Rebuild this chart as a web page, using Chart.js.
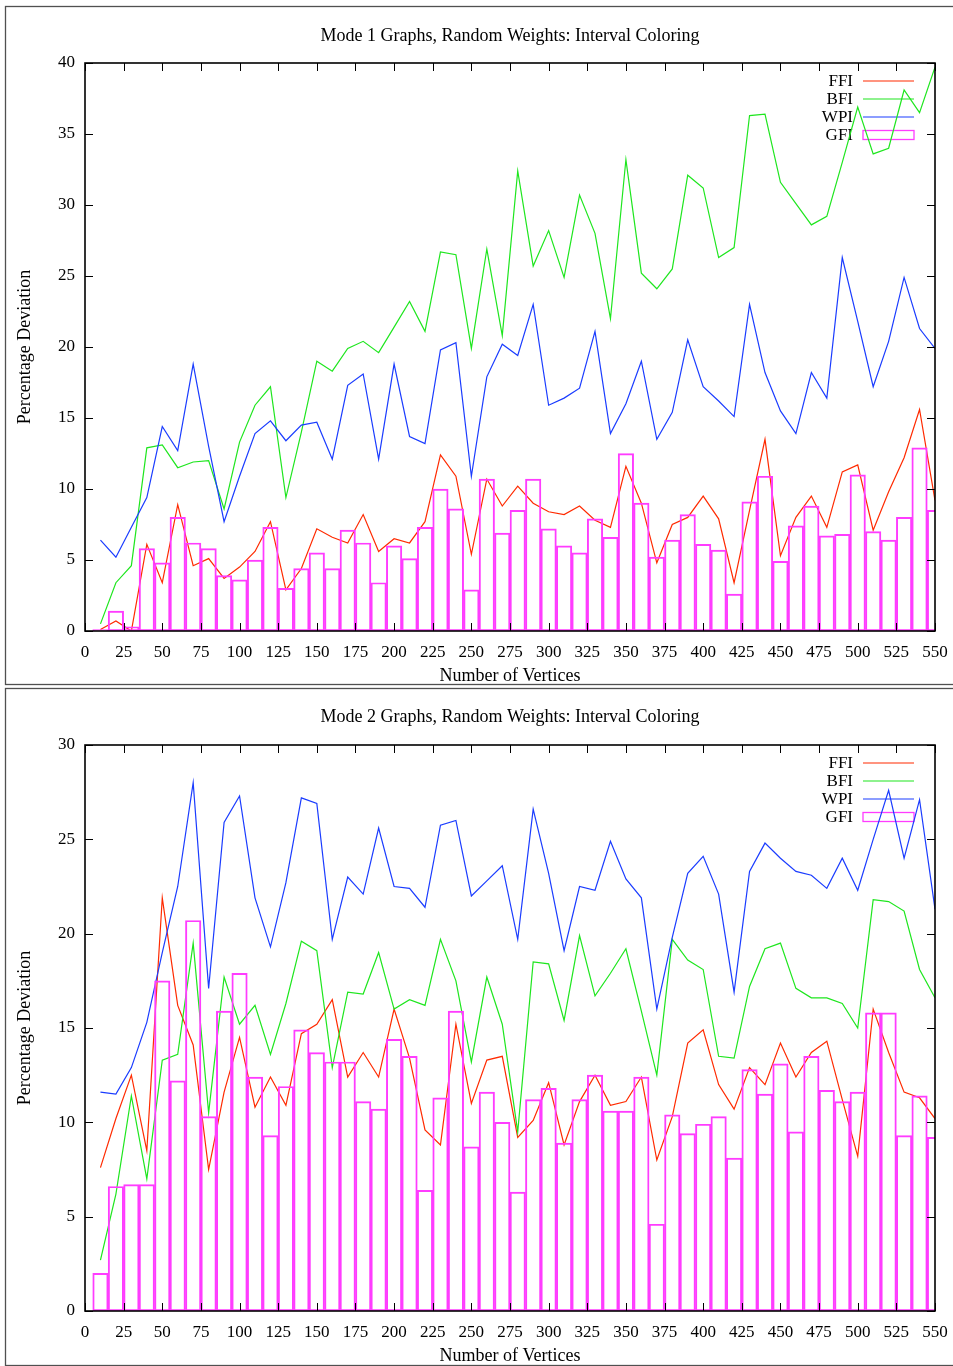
<!DOCTYPE html>
<html>
<head>
<meta charset="utf-8">
<script src="https://cdn.jsdelivr.net/npm/chart.js@4.4.1/dist/chart.umd.min.js"></script>
<style>
  body { margin: 0; background: #fff; width: 953px; height: 1366px; position: relative; overflow: hidden; }
  canvas { position: absolute; left: 0; }
</style>
</head>
<body>
<canvas id="mode1Chart" width="953" height="686" style="top:0"></canvas>
<canvas id="mode2Chart" width="953" height="680" style="top:686px"></canvas>
<script>
// number of vertices (x positions of every sample)
const vertices = [10, 20, 30, 40, 50, 60, 70, 80, 90, 100, 110, 120, 130, 140, 150, 160, 170, 180, 190, 200,
    210, 220, 230, 240, 250, 260, 270, 280, 290, 300, 310, 320, 330, 340, 350, 360, 370, 380, 390, 400,
    410, 420, 430, 440, 450, 460, 470, 480, 490, 500, 510, 520, 530, 540, 550];

// Mode 1 graphs
const ffiMode1 = [0.1, 0.7, 0.0, 6.1, 3.4, 8.9, 4.6, 5.1, 3.7, 4.5, 5.6, 7.7, 2.9, 4.4, 7.2, 6.6, 6.2, 8.2, 5.6, 6.5,
    6.2, 7.7, 12.4, 10.9, 5.4, 10.7, 8.8, 10.2, 9.0, 8.4, 8.2, 8.8, 7.8, 7.3, 11.6, 9.0, 4.8, 7.5, 8.0, 9.5,
    7.9, 3.4, 8.5, 13.5, 5.3, 8.0, 9.5, 7.3, 11.2, 11.7, 7.1, 9.8, 12.2, 15.6, 9.2];
const bfiMode1 = [0.5, 3.4, 4.6, 12.9, 13.1, 11.5, 11.9, 12.0, 8.6, 13.3, 15.9, 17.2, 9.4, 14.0, 19.0, 18.3, 19.9, 20.4, 19.6, 21.4,
    23.2, 21.1, 26.7, 26.5, 19.9, 26.9, 20.8, 32.4, 25.7, 28.2, 24.9, 30.7, 28.0, 22.0, 33.2, 25.2, 24.1, 25.5, 32.1, 31.2,
    26.3, 27.0, 36.3, 36.4, 31.6, 30.1, 28.6, 29.2, 33.0, 36.9, 33.6, 34.0, 38.1, 36.5, 39.7];
const wpiMode1 = [6.4, 5.2, 7.3, 9.4, 14.4, 12.7, 18.8, 13.0, 7.7, 10.9, 13.9, 14.8, 13.4, 14.5, 14.7, 12.1, 17.3, 18.1, 12.1, 18.8,
    13.7, 13.2, 19.8, 20.3, 10.9, 17.9, 20.2, 19.4, 23.0, 15.9, 16.4, 17.1, 21.1, 13.9, 16.0, 19.0, 13.5, 15.4, 20.5, 17.2,
    16.2, 15.1, 23.0, 18.2, 15.5, 13.9, 18.2, 16.4, 26.3, 21.8, 17.2, 20.4, 24.9, 21.3, 19.9];
const gfiMode1 = [0.1, 1.4, 0.3, 5.8, 4.8, 8.0, 6.2, 5.8, 3.9, 3.6, 5.0, 7.3, 3.0, 4.4, 5.5, 4.4, 7.1, 6.2, 3.4, 6.0,
    5.1, 7.3, 10.0, 8.6, 2.9, 10.7, 6.9, 8.5, 10.7, 7.2, 6.0, 5.5, 7.9, 6.6, 12.5, 9.0, 5.2, 6.4, 8.2, 6.1,
    5.7, 2.6, 9.1, 10.9, 4.9, 7.4, 8.8, 6.7, 6.8, 11.0, 7.0, 6.4, 8.0, 12.9, 8.5];

// Mode 2 graphs
const ffiMode2 = [7.6, 10.2, 12.5, 8.5, 21.9, 16.2, 14.1, 7.5, 11.6, 14.5, 10.8, 12.4, 10.9, 14.7, 15.2, 16.5, 12.4, 13.7, 12.4, 16.0,
    13.4, 9.6, 8.8, 15.2, 11.0, 13.3, 13.5, 9.2, 10.1, 12.1, 8.8, 11.1, 12.5, 10.9, 11.1, 12.4, 8.0, 10.3, 14.2, 14.9,
    12.0, 10.7, 12.9, 12.0, 14.2, 12.4, 13.7, 14.3, 11.2, 8.2, 16.0, 13.7, 11.6, 11.3, 10.2];
const bfiMode2 = [2.7, 6.2, 11.4, 7.0, 13.3, 13.6, 19.5, 10.5, 17.7, 15.2, 16.2, 13.6, 16.3, 19.6, 19.1, 12.9, 16.9, 16.8, 19.0, 16.0,
    16.5, 16.2, 19.7, 17.5, 13.2, 17.7, 15.2, 9.5, 18.5, 18.4, 15.4, 19.9, 16.7, 17.9, 19.2, 15.9, 12.5, 19.7, 18.6, 18.1,
    13.5, 13.4, 17.2, 19.2, 19.5, 17.1, 16.6, 16.6, 16.3, 15.0, 21.8, 21.7, 21.2, 18.1, 16.6];
const wpiMode2 = [11.6, 11.5, 12.9, 15.3, 19.0, 22.5, 28.0, 17.1, 25.9, 27.3, 21.9, 19.3, 22.7, 27.2, 26.9, 19.7, 23.0, 22.1, 25.6, 22.5,
    22.4, 21.4, 25.75, 26.0, 22.0, 22.8, 23.6, 19.7, 26.6, 23.2, 19.1, 22.5, 22.3, 24.9, 22.9, 21.9, 16.0, 19.8, 23.2, 24.1,
    22.1, 16.9, 23.3, 24.8, 24.0, 23.3, 23.1, 22.4, 24.0, 22.3, 25.0, 27.6, 24.0, 27.1, 21.3];
const gfiMode2 = [2.0, 6.6, 6.7, 6.7, 17.5, 12.2, 20.7, 10.3, 15.9, 17.9, 12.4, 9.3, 11.9, 14.9, 13.7, 13.2, 13.2, 11.1, 10.7, 14.4,
    13.5, 6.4, 11.3, 15.9, 8.7, 11.6, 10.0, 6.3, 11.2, 11.8, 8.9, 11.2, 12.5, 10.6, 10.6, 12.4, 4.6, 10.4, 9.4, 9.9,
    10.3, 8.1, 12.8, 11.5, 13.1, 9.5, 13.5, 11.7, 11.1, 11.6, 15.8, 15.8, 9.3, 11.4, 9.2];

const SERIF = "'Liberation Serif', 'DejaVu Serif', serif";
const RED = '#ff2a00';
const GREEN = '#1ee61e';
const BLUE = '#1a3cff';
const MAGENTA = '#ff3cff';

const toPoints = (values) => values.map((v, i) => ({ x: vertices[i], y: v }));

// gnuplot look: outer frame, title over the plot box, boxed axes with inward ticks, key in the top right
const gnuplotFrame = {
    id: 'gnuplotFrame',
    beforeDraw(chart, args, opts) {
        const { ctx, chartArea: a } = chart;
        ctx.save();
        ctx.strokeStyle = '#505050';
        ctx.lineWidth = 1.3;
        ctx.strokeRect(5.5, opts.frameTop + 0.5, chart.width + 10, opts.frameBottom - opts.frameTop);
        ctx.font = '18px ' + SERIF;
        ctx.fillStyle = '#000';
        ctx.textAlign = 'center';
        ctx.textBaseline = 'middle';
        ctx.fillText(opts.title, (a.left + a.right) / 2, opts.titleY);
        ctx.restore();
    },
    beforeDatasetsDraw(chart) {
        const { ctx, chartArea: a } = chart;
        ctx.save();
        ctx.font = '17px ' + SERIF;
        ctx.fillStyle = '#000';
        ctx.textAlign = 'right';
        ctx.textBaseline = 'middle';
        chart.data.datasets.forEach((ds, i) => {
            const y = a.top + 18 + 18 * i;
            ctx.fillText(ds.label, a.right - 82, y + 1);
            ctx.strokeStyle = ds.borderColor;
            ctx.lineWidth = ds.type === 'bar' ? 1.3 : 1.2;
            if (ds.type === 'bar') {
                ctx.strokeRect(a.right - 72, y - 4.5, 51, 9);
            } else {
                ctx.beginPath();
                ctx.moveTo(a.right - 72, y);
                ctx.lineTo(a.right - 21, y);
                ctx.stroke();
            }
        });
        ctx.restore();
    },
    afterDatasetsDraw(chart) {
        const { ctx, chartArea: a, scales: { x, y } } = chart;
        ctx.save();
        ctx.strokeStyle = '#000';
        ctx.lineWidth = 1;
        ctx.beginPath();
        x.ticks.forEach(t => {
            const px = Math.round(x.getPixelForValue(t.value)) + 0.5;
            ctx.moveTo(px, a.bottom); ctx.lineTo(px, a.bottom - 8);
            ctx.moveTo(px, a.top); ctx.lineTo(px, a.top + 8);
        });
        y.ticks.forEach(t => {
            const py = Math.round(y.getPixelForValue(t.value)) + 0.5;
            ctx.moveTo(a.left, py); ctx.lineTo(a.left + 8, py);
            ctx.moveTo(a.right, py); ctx.lineTo(a.right - 8, py);
        });
        ctx.stroke();
        ctx.lineWidth = 1.6;
        ctx.strokeRect(a.left, a.top, a.right - a.left, a.bottom - a.top);
        ctx.restore();
    }
};

function buildChart(canvasId, title, ffi, bfi, wpi, gfi, layout) {
    const tickFont = { family: SERIF, size: 17 };
    const labelFont = { family: SERIF, size: 18 };
    return new Chart(document.getElementById(canvasId), {
        type: 'bar',
        data: {
            datasets: [
                { type: 'line', label: 'FFI', data: toPoints(ffi), borderColor: RED, borderWidth: 1.2, pointRadius: 0, fill: false, tension: 0, order: 3 },
                { type: 'line', label: 'BFI', data: toPoints(bfi), borderColor: GREEN, borderWidth: 1.2, pointRadius: 0, fill: false, tension: 0, order: 2 },
                { type: 'line', label: 'WPI', data: toPoints(wpi), borderColor: BLUE, borderWidth: 1.2, pointRadius: 0, fill: false, tension: 0, order: 1 },
                {
                    type: 'bar', label: 'GFI', data: toPoints(gfi),
                    backgroundColor: 'rgba(0,0,0,0)', borderColor: MAGENTA, borderWidth: 1.3, borderSkipped: false,
                    barPercentage: 1, categoryPercentage: 1, order: 0
                }
            ]
        },
        options: {
            responsive: false,
            animation: false,
            events: [],
            layout: { padding: { left: 0, right: 18, top: layout.plotTop, bottom: 0 } },
            plugins: {
                legend: { display: false },
                tooltip: { enabled: false },
                title: { display: false },
                gnuplotFrame: { title: title, titleY: layout.titleY, frameTop: layout.frameTop, frameBottom: layout.frameBottom }
            },
            scales: {
                x: {
                    type: 'linear',
                    min: 0,
                    max: 550,
                    offset: false,
                    grid: { display: false, drawTicks: false },
                    border: { display: false },
                    ticks: { stepSize: 25, color: '#000', font: tickFont, padding: 11, maxRotation: 0, autoSkip: false },
                    title: { display: true, text: 'Number of Vertices', color: '#000', font: labelFont, padding: { top: 0, bottom: -1.5 } },
                    afterFit: (scale) => {
                        scale.height = 55;
                        scale.paddingLeft = 0;
                        scale.paddingRight = 0;
                    }
                },
                y: {
                    min: 0,
                    max: layout.yMax,
                    grid: { display: false, drawTicks: false },
                    border: { display: false },
                    ticks: { stepSize: 5, color: '#000', font: tickFont, padding: 10 },
                    title: { display: true, text: 'Percentage Deviation', color: '#000', font: labelFont, padding: { top: 14, bottom: 0 } },
                    afterFit: (scale) => {
                        scale.width = 85;
                        scale.paddingTop = 0;
                        scale.paddingBottom = 0;
                    }
                }
            }
        },
        plugins: [gnuplotFrame]
    });
}

buildChart('mode1Chart', 'Mode 1 Graphs, Random Weights: Interval Coloring',
    ffiMode1, bfiMode1, wpiMode1, gfiMode1,
    { yMax: 40, plotTop: 63, titleY: 36, frameTop: 6, frameBottom: 684 });
buildChart('mode2Chart', 'Mode 2 Graphs, Random Weights: Interval Coloring',
    ffiMode2, bfiMode2, wpiMode2, gfiMode2,
    { yMax: 30, plotTop: 59, titleY: 31, frameTop: 2, frameBottom: 679 });
</script>
</body>
</html>
